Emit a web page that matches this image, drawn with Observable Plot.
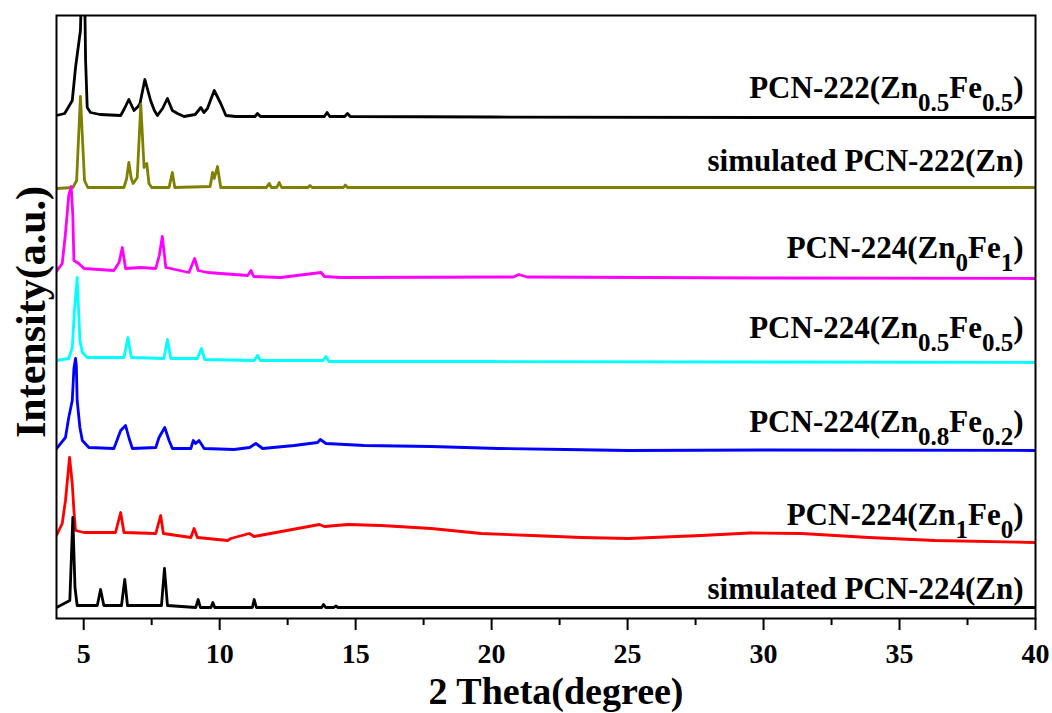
<!DOCTYPE html>
<html>
<head>
<meta charset="utf-8">
<script src="https://cdn.jsdelivr.net/npm/d3@7"></script>
<script src="https://cdn.jsdelivr.net/npm/@observablehq/plot@0.6"></script>
<style>
  html, body { margin: 0; padding: 0; background: #fff; }
</style>
</head>
<body>
<div id="chart"></div>
<script>
// ---- Data (2θ in degrees, intensity in stacked a.u.) ----
const seriesNames = [
  "PCN-222(Zn_{0.5}Fe_{0.5})",
  "simulated PCN-222(Zn)",
  "PCN-224(Zn_{0}Fe_{1})",
  "PCN-224(Zn_{0.5}Fe_{0.5})",
  "PCN-224(Zn_{0.8}Fe_{0.2})",
  "PCN-224(Zn_{1}Fe_{0})",
  "simulated PCN-224(Zn)"
];
const seriesColors = ["#000000", "#808000", "#ff00ff", "#00ffff", "#0000ff", "#ff0000", "#000000"];
const labelLevels = [521, 448, 361, 281, 187, 94, 20];

const x222ZnFe = [4.0,4.3,4.58,4.70,4.88,4.95,5.02,5.07,5.13,5.25,5.6,6.36,6.5,6.66,6.85,7.0,7.07,7.25,7.46,7.6,7.71,7.9,8.08,8.26,8.45,8.69,9.1,9.31,9.42,9.55,9.8,10.04,10.23,10.6,11.3,11.39,11.5,13.0,13.85,13.95,14.05,14.6,14.7,14.8,20,30,40];
const y222ZnFe = [503,505,518,551,588,658,658,558,511,506,504,503,510,519,508,512,515,539,518,508,503,510,520,508,505,502,504,511,506,510,528,515,503,502,502,505,502,502,502,506,502,502,505,502,501.5,501,501];

const x222Sim = [4.0,4.6,4.74,4.88,5.03,5.15,6.48,6.58,6.66,6.75,6.82,6.97,7.10,7.22,7.32,7.40,7.5,8.14,8.26,8.35,9.65,9.74,9.8,9.92,10.04,11.72,11.82,11.9,12.1,12.19,12.28,13.25,13.32,13.4,14.55,14.62,14.7,40];
const y222Sim = [430,431,438,522,438,431,431,440,456,440,435,441,514,451,455,435,431,431,446,431,432,446,440,452,431,431,435,431,431,436,431,431,433,431,431,433.5,431,431];

const x224Zn0Fe1 = [4.0,4.21,4.33,4.45,4.54,4.60,4.64,4.82,5.01,6.11,6.3,6.42,6.54,7.10,7.65,7.78,7.89,8.02,8.87,9.08,9.21,9.55,11.03,11.15,11.25,12.25,13.73,13.85,14.46,20.8,21.0,21.3,30,40];
const y224Zn0Fe1 = [347,355,385,423,432,403,358,355,350,348,356,371,350,351,350,363,382,351,346,360,348,346,343,348,342,341,346,342,341,341.5,344,341.5,340.5,340];

const x224Zn05Fe05 = [4.0,4.45,4.58,4.66,4.76,4.86,4.95,5.13,6.48,6.63,6.75,7.95,8.08,8.2,9.18,9.33,9.45,11.27,11.39,11.5,13.8,13.91,14.02,20,40];
const y224Zn05Fe05 = [258,260,271,308,341,278,266,261,261,281,261,260,279,260,260,270,259,258,263,258,258,262,257,257,256];

const x224Zn08Fe02 = [4.0,4.33,4.45,4.58,4.64,4.70,4.73,4.76,4.86,4.95,5.19,6.11,6.36,6.54,6.66,6.79,7.65,7.77,7.98,8.14,8.26,8.94,9.03,9.12,9.24,9.43,10.53,11.1,11.33,11.58,12.74,13.6,13.7,13.91,15.32,17.78,20.24,22.7,25.0,30,40];
const y224Zn08Fe02 = [170,181,201,218,250,260,252,218,191,178,171,170,188,193,181,170,171,181,191,178,170,170,178,175,178,170,169,171,175,170,173,176,179,175,173,172,170,169,168,168.5,168];

const x224Zn1Fe0 = [4.0,4.21,4.33,4.48,4.58,4.64,4.70,5.01,6.17,6.36,6.48,7.65,7.83,7.93,8.94,9.06,9.18,10.29,10.41,11.09,11.27,12.87,13.67,13.85,14.71,15.94,17.78,19.62,21.47,23.31,25.03,27.7,29.5,31.4,33.87,36.3,40];
const y224Zn1Fe0 = [83,95,118,161,135,108,88,86,86,106,86,85,103,85,81,90,81,78,80,85,82,90,94,92,94,93,90,85,83,81,80,83,85.5,85,81,78,76];

const x224Sim = [4.0,4.49,4.60,4.68,4.76,5.5,5.62,5.74,6.39,6.51,6.61,7.86,7.97,8.08,9.12,9.21,9.29,9.68,9.75,9.82,11.2,11.27,11.35,13.75,13.82,13.9,14.2,14.27,14.35,40];
const y224Sim = [11,18,101,31,13,13,29,13,13,39,13,13,50,13,11,19,11,11,16,11,11,19,11,11,14,11,11,12.5,11,11];

const majorTicks = [5, 10, 15, 20, 25, 30, 35, 40];
const minorTicks = [7.5, 12.5, 17.5, 22.5, 27.5, 32.5, 37.5];

// ---- Build table ----
const xs = [x222ZnFe, x222Sim, x224Zn0Fe1, x224Zn05Fe05, x224Zn08Fe02, x224Zn1Fe0, x224Sim];
const ys = [y222ZnFe, y222Sim, y224Zn0Fe1, y224Zn05Fe05, y224Zn08Fe02, y224Zn1Fe0, y224Sim];
const rows = [];
seriesNames.forEach((name, i) => {
  xs[i].forEach((x, j) => rows.push({series: name, x, y: ys[i][j]}));
});
const labels = seriesNames.map((name, i) => ({series: name, x: 40, y: labelLevels[i]}));

const svg = Plot.plot({
  width: 1052,
  height: 713,
  marginLeft: 56,
  marginRight: 17,
  marginTop: 15,
  marginBottom: 95,
  style: {
    fontFamily: "'Times New Roman', 'Liberation Serif', serif",
    fontWeight: "bold",
    fontSize: "28px",
    background: "white",
    color: "black",
    overflow: "visible"
  },
  x: {domain: [4, 40]},
  y: {domain: [0, 603], axis: null},
  color: {domain: seriesNames, range: seriesColors},
  marks: [
    Plot.line(rows, {x: "x", y: "y", z: "series", stroke: "series", strokeWidth: 2.8, clip: true, curve: "linear", strokeLinejoin: "round"}),
    Plot.frame({stroke: "black", strokeWidth: 2}),
    Plot.axisX({ticks: majorTicks, tickSize: 12, tickPadding: 13, strokeWidth: 2, label: null, fontSize: 28}),
    Plot.axisX({ticks: minorTicks, tickSize: 7, strokeWidth: 2, tickFormat: () => "", label: null}),
    Plot.text(labels, {x: "x", y: "y", text: "series", textAnchor: "end", lineAnchor: "bottom", dx: -12, fontSize: 31, fill: "black"}),
    Plot.text(["2 Theta(degree)"], {frameAnchor: "bottom", textAnchor: "middle", lineAnchor: "bottom", dy: 85, dx: 10, fontSize: 38, fill: "black"}),
    Plot.text(["Intensity(a.u.)"], {frameAnchor: "left", textAnchor: "middle", rotate: -90, lineAnchor: "bottom", dx: -12, dy: -5, fontSize: 42, fill: "black"})
  ]
});

// subscripts for the series labels
svg.querySelectorAll("text").forEach(t => {
  const s = t.textContent;
  if (!s.includes("_{")) return;
  const parts = s.split(/(_\{[^}]*\})/).filter(p => p);
  t.textContent = "";
  let shifted = false;
  for (const p of parts) {
    const ts = document.createElementNS("http://www.w3.org/2000/svg", "tspan");
    if (p.startsWith("_{")) {
      ts.textContent = p.slice(2, -1);
      ts.style.fontSize = "25px";
      if (!shifted) { ts.setAttribute("dy", "13"); shifted = true; }
    } else {
      ts.textContent = p;
      if (shifted) { ts.setAttribute("dy", "-13"); shifted = false; }
    }
    t.appendChild(ts);
  }
});

document.getElementById("chart").appendChild(svg);
</script>
</body>
</html>
